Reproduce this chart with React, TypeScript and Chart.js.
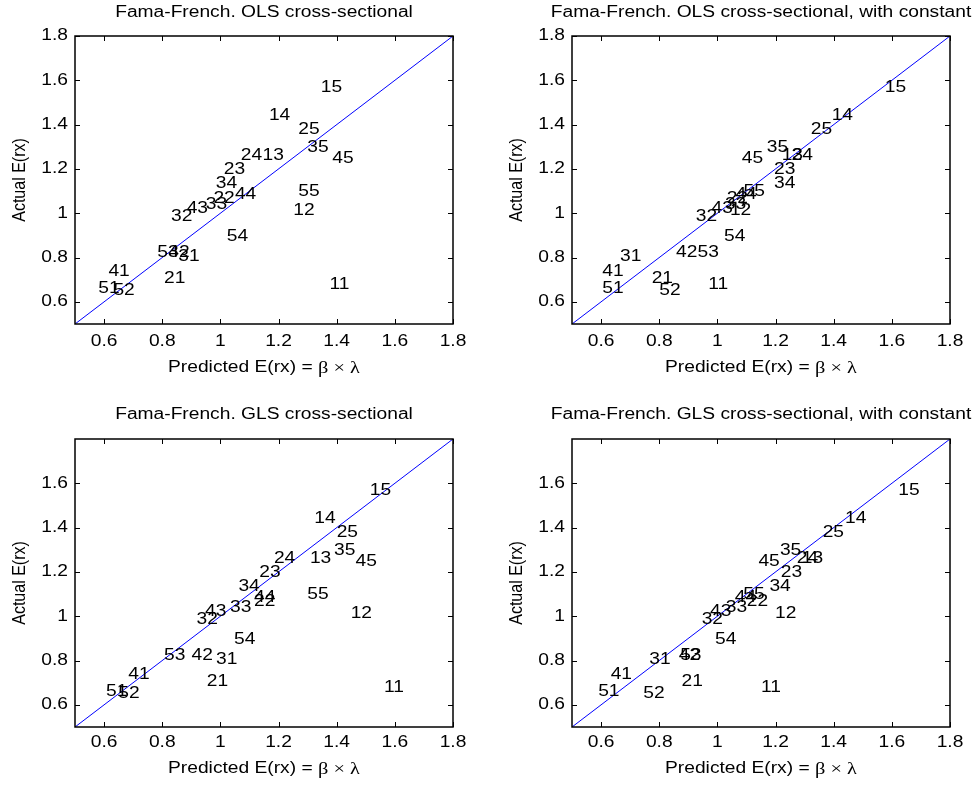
import React, { useEffect, useRef } from 'react';
import { Chart, registerables } from 'chart.js';

Chart.register(...registerables);

// 5x5 size/book-to-market portfolios
const PORTFOLIOS = [
  '11', '12', '13', '14', '15',
  '21', '22', '23', '24', '25',
  '31', '32', '33', '34', '35',
  '41', '42', '43', '44', '45',
  '51', '52', '53', '54', '55',
];

// Average excess returns
const ACTUAL = [
  0.68, 1.012, 1.26, 1.442, 1.568,
  0.703, 1.067, 1.199, 1.26, 1.377,
  0.805, 0.985, 1.041, 1.135, 1.295,
  0.735, 0.823, 1.02, 1.085, 1.245,
  0.658, 0.65, 0.822, 0.895, 1.098,
];

// Predicted returns, OLS cross-sectional regression
const PRED_OLS = [
  1.375, 1.251, 1.145, 1.167, 1.345,
  0.806, 0.976, 1.012, 1.07, 1.268,
  0.855, 0.83, 0.95, 0.984, 1.299,
  0.615, 0.821, 0.884, 1.05, 1.385,
  0.58, 0.632, 0.783, 1.022, 1.268,
];

// Predicted returns, OLS with a constant
const PRED_OLS_CONST = [
  0.969, 1.043, 1.221, 1.393, 1.576,
  0.774, 1.032, 1.195, 1.255, 1.321,
  0.665, 0.926, 1.026, 1.195, 1.17,
  0.604, 0.858, 0.98, 1.062, 1.084,
  0.604, 0.8, 0.932, 1.023, 1.09,
];

// Predicted returns, GLS cross-sectional regression
const PRED_GLS = [
  1.563, 1.448, 1.308, 1.323, 1.514,
  0.953, 1.116, 1.134, 1.184, 1.4,
  0.985, 0.918, 1.033, 1.062, 1.391,
  0.683, 0.901, 0.947, 1.116, 1.465,
  0.607, 0.649, 0.806, 1.047, 1.299,
];

// Predicted returns, GLS with a constant
const PRED_GLS_CONST = [
  1.15, 1.198, 1.29, 1.439, 1.622,
  0.877, 1.101, 1.218, 1.273, 1.362,
  0.766, 0.946, 1.029, 1.179, 1.215,
  0.633, 0.867, 0.975, 1.06, 1.141,
  0.59, 0.745, 0.872, 0.992, 1.089,
];

const AXIS_MIN = 0.5;
const AXIS_MAX = 1.8;
const X_TICKS = [0.6, 0.8, 1, 1.2, 1.4, 1.6, 1.8];
const Y_TICKS_TOP = [0.6, 0.8, 1, 1.2, 1.4, 1.6, 1.8];
const Y_TICKS_BOTTOM = [0.6, 0.8, 1, 1.2, 1.4, 1.6];
// 45-degree reference line endpoints
const DIAGONAL = [0.5, 1.8];

const SANS = "'Liberation Sans', Arial, Helvetica, sans-serif";
const SERIF = "'Liberation Serif', 'DejaVu Serif', serif";
const STRETCH = 1.2;

function drawText(
  ctx: CanvasRenderingContext2D,
  text: string,
  x: number,
  y: number,
  align: CanvasTextAlign,
  font: string
) {
  ctx.save();
  ctx.translate(x, y);
  ctx.scale(STRETCH, 1);
  ctx.font = font;
  ctx.textAlign = align;
  ctx.textBaseline = 'middle';
  ctx.fillText(text, 0, 0);
  ctx.restore();
}

function strokeLine(ctx: CanvasRenderingContext2D, x1: number, y1: number, x2: number, y2: number) {
  ctx.beginPath();
  ctx.moveTo(x1, y1);
  ctx.lineTo(x2, y2);
  ctx.stroke();
}

type PanelProps = {
  title: string;
  pred: number[];
  yTicks: number[];
  left: number;
  top: number;
  padding: { left: number; right: number; top: number; bottom: number };
  titleGap: number;
  tickLabelGap: number;
  xTitleGap: number;
};

const CANVAS_W = 489;
const CANVAS_H = 393;

function Panel(props: PanelProps) {
  const ref = useRef<HTMLCanvasElement | null>(null);

  useEffect(() => {
    const canvas = ref.current;
    if (!canvas) return;

    const decor = {
      id: 'panelDecor',
      afterDraw(chart: Chart) {
        const ctx = chart.ctx;
        const a = chart.chartArea;
        const xs = chart.scales.x;
        const ys = chart.scales.y;
        ctx.save();
        ctx.fillStyle = '#000';

        // portfolio labels, anchored left-middle at each point
        const meta = chart.getDatasetMeta(1);
        meta.data.forEach((el: any, i: number) => {
          drawText(ctx, PORTFOLIOS[i], el.x, el.y, 'left', `16px ${SANS}`);
        });

        // axes box
        ctx.strokeStyle = '#000';
        ctx.lineWidth = 1.5;
        ctx.strokeRect(a.left, a.top, a.right - a.left, a.bottom - a.top);

        // inward tick marks on all four sides
        ctx.lineWidth = 1;
        X_TICKS.forEach((v) => {
          const px = Math.round(xs.getPixelForValue(v)) + 0.5;
          strokeLine(ctx, px, a.bottom, px, a.bottom - 5);
          strokeLine(ctx, px, a.top, px, a.top + 5);
        });
        props.yTicks.forEach((v) => {
          const py = Math.round(ys.getPixelForValue(v)) + 0.5;
          strokeLine(ctx, a.left, py, a.left + 5, py);
          strokeLine(ctx, a.right, py, a.right - 5, py);
        });

        // tick labels
        X_TICKS.forEach((v) => {
          drawText(ctx, String(v), xs.getPixelForValue(v), a.bottom + props.tickLabelGap, 'center', `16px ${SANS}`);
        });
        props.yTicks.forEach((v) => {
          drawText(ctx, String(v), a.left - 7, ys.getPixelForValue(v), 'right', `16px ${SANS}`);
        });

        const cx = (a.left + a.right) / 2;
        const cy = (a.top + a.bottom) / 2;

        // title
        drawText(ctx, props.title, cx, a.top - props.titleGap, 'center', `16px ${SANS}`);

        // x-axis label: sans part followed by the Greek symbols
        const part1 = 'Predicted E(rx) = ';
        const part2 = 'β × λ';
        ctx.font = `16px ${SANS}`;
        const w1 = ctx.measureText(part1).width * STRETCH;
        ctx.font = `17px ${SERIF}`;
        const w2 = ctx.measureText(part2).width * STRETCH;
        const startX = cx - (w1 + w2) / 2;
        const ty = a.bottom + props.xTitleGap;
        drawText(ctx, part1, startX, ty, 'left', `16px ${SANS}`);
        drawText(ctx, part2, startX + w1, ty + 1, 'left', `17px ${SERIF}`);

        // y-axis label, rotated
        ctx.save();
        ctx.translate(a.left - 55, cy);
        ctx.rotate(-Math.PI / 2);
        ctx.scale(1, STRETCH);
        ctx.font = `16px ${SANS}`;
        ctx.textAlign = 'center';
        ctx.textBaseline = 'middle';
        ctx.fillText('Actual E(rx)', 0, 0);
        ctx.restore();

        ctx.restore();
      },
    };

    const chart = new Chart(canvas, {
      type: 'scatter',
      data: {
        datasets: [
          {
            type: 'line',
            data: DIAGONAL.map((v) => ({ x: v, y: v })),
            borderColor: '#0000ff',
            borderWidth: 1,
            pointRadius: 0,
            fill: false,
            tension: 0,
          },
          {
            type: 'scatter',
            data: props.pred.map((p, i) => ({ x: p, y: ACTUAL[i] })),
            pointRadius: 0,
            pointHoverRadius: 0,
          },
        ],
      } as any,
      options: {
        animation: false,
        responsive: false,
        maintainAspectRatio: false,
        devicePixelRatio: 1,
        events: [],
        layout: { padding: props.padding },
        plugins: {
          legend: { display: false },
          tooltip: { enabled: false },
          title: { display: false },
        },
        scales: {
          x: { type: 'linear', min: AXIS_MIN, max: AXIS_MAX, display: false },
          y: { type: 'linear', min: AXIS_MIN, max: AXIS_MAX, display: false },
        },
      },
      plugins: [decor],
    });

    return () => chart.destroy();
  }, []);

  return (
    <canvas
      ref={ref}
      width={CANVAS_W}
      height={CANVAS_H}
      style={{
        position: 'absolute',
        left: props.left,
        top: props.top,
        width: CANVAS_W,
        height: CANVAS_H,
      }}
    />
  );
}

export default function App() {
  const topPad = { top: 36, bottom: 69 };
  const bottomPad = { top: 46, bottom: 59 };
  const leftPad = { left: 75, right: 36 };
  const rightPad = { left: 83, right: 28 };
  return (
    <div
      style={{
        position: 'absolute',
        left: 0,
        top: 0,
        width: 978,
        height: 786,
        background: '#fff',
      }}
    >
      <Panel
        title="Fama-French. OLS cross-sectional"
        pred={PRED_OLS}
        yTicks={Y_TICKS_TOP}
        left={0}
        top={0}
        padding={{ ...leftPad, ...topPad }}
        titleGap={23}
        tickLabelGap={18}
        xTitleGap={44}
      />
      <Panel
        title="Fama-French. OLS cross-sectional, with constant"
        pred={PRED_OLS_CONST}
        yTicks={Y_TICKS_TOP}
        left={489}
        top={0}
        padding={{ ...rightPad, ...topPad }}
        titleGap={23}
        tickLabelGap={18}
        xTitleGap={44}
      />
      <Panel
        title="Fama-French. GLS cross-sectional"
        pred={PRED_GLS}
        yTicks={Y_TICKS_BOTTOM}
        left={0}
        top={393}
        padding={{ ...leftPad, ...bottomPad }}
        titleGap={24}
        tickLabelGap={16}
        xTitleGap={42}
      />
      <Panel
        title="Fama-French. GLS cross-sectional, with constant"
        pred={PRED_GLS_CONST}
        yTicks={Y_TICKS_BOTTOM}
        left={489}
        top={393}
        padding={{ ...rightPad, ...bottomPad }}
        titleGap={24}
        tickLabelGap={16}
        xTitleGap={42}
      />
    </div>
  );
}
